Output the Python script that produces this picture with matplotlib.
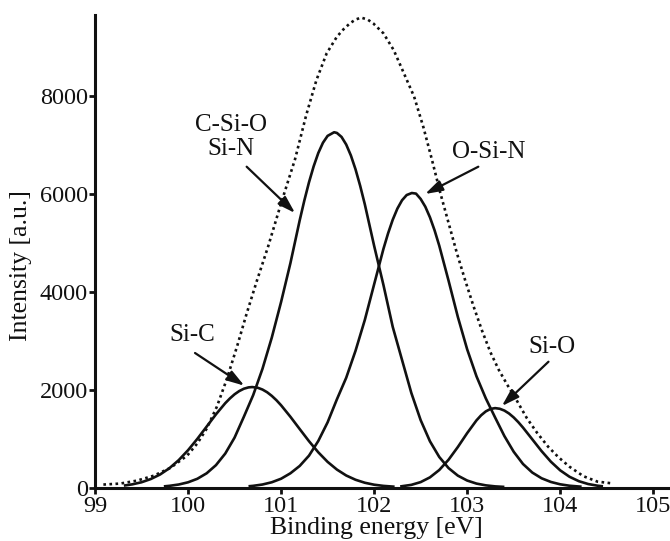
import matplotlib
matplotlib.use("Agg")
import matplotlib.pyplot as plt

plt.rcParams['font.family'] = ['Liberation Serif', 'DejaVu Serif']

# ---- data ----
sic_x = [99.31, 99.4, 99.5, 99.6, 99.7, 99.8, 99.9, 100.0, 100.1, 100.2, 100.3, 100.4, 100.45,
         100.5, 100.55, 100.6, 100.65, 100.69, 100.75, 100.8, 100.85, 100.9, 100.95, 101.0,
         101.1, 101.2, 101.3, 101.4, 101.5, 101.6, 101.7, 101.8, 101.9, 102.0, 102.1, 102.22]
sic_y = [39, 64, 107, 173, 266, 394, 559, 761, 993, 1243, 1493, 1721, 1818,
         1902, 1968, 2016, 2043, 2050, 2035, 1999, 1944, 1870, 1781, 1678,
         1444, 1193, 945, 718, 523, 366, 245, 158, 97, 57, 33, 16]

csio_x = [99.74, 99.8, 99.9, 100.0, 100.1, 100.2, 100.3, 100.4, 100.5, 100.6, 100.7, 100.8,
          100.9, 101.0, 101.1, 101.2, 101.25, 101.3, 101.35, 101.4, 101.45, 101.5, 101.57,
          101.6, 101.65, 101.7, 101.75, 101.8, 101.85, 101.9, 102.0, 102.1, 102.2, 102.3,
          102.4, 102.5, 102.6, 102.7, 102.8, 102.9, 103.0, 103.1, 103.2, 103.3, 103.4]
csio_y = [23, 34, 61, 106, 178, 290, 456, 693, 1018, 1444, 1885, 2422,
          3059, 3786, 4577, 5452, 5858, 6229, 6554, 6827, 7036, 7176, 7250,
          7236, 7154, 6999, 6777, 6494, 6157, 5779, 4933, 4134, 3278, 2603,
          1929, 1375, 943, 623, 396, 242, 142, 80, 44, 23, 12]

osin_x = [100.65, 100.7, 100.8, 100.9, 101.0, 101.1, 101.2, 101.3, 101.4, 101.5, 101.6, 101.7,
          101.8, 101.9, 102.0, 102.1, 102.15, 102.2, 102.25, 102.3, 102.35, 102.405, 102.45,
          102.5, 102.55, 102.6, 102.65, 102.7, 102.8, 102.9, 103.0, 103.1, 103.2, 103.3,
          103.4, 103.5, 103.6, 103.7, 103.8, 103.9, 104.0, 104.1, 104.23]
osin_y = [25, 34, 61, 107, 179, 290, 440, 650, 950, 1330, 1800, 2240,
          2790, 3420, 4146, 4869, 5187, 5465, 5692, 5862, 5969, 6010, 5998,
          5889, 5731, 5514, 5247, 4935, 4221, 3480, 2820, 2270, 1820, 1430,
          1050, 730, 480, 305, 188, 113, 65, 36, 16]

sio_x = [102.28, 102.4, 102.5, 102.6, 102.7, 102.8, 102.9, 103.0, 103.1, 103.15, 103.2, 103.25,
         103.3, 103.35, 103.4, 103.45, 103.5, 103.55, 103.6, 103.7, 103.8, 103.9, 104.0, 104.1,
         104.2, 104.3, 104.4, 104.46]
sio_y = [21, 54, 110, 207, 357, 567, 827, 1110, 1370, 1474, 1553, 1603,
         1620, 1607, 1570, 1510, 1430, 1333, 1223, 983, 742, 526, 350, 219,
         129, 71, 37, 24]

env_x = [99.09, 99.27, 99.45, 99.63, 99.81, 99.99, 100.1, 100.2, 100.31, 100.42, 100.53, 100.63,
         100.74, 100.86, 101.0, 101.15, 101.27, 101.38, 101.49, 101.6, 101.67, 101.74, 101.8,
         101.86, 101.93, 101.99, 102.1, 102.21, 102.32, 102.43, 102.53, 102.62, 102.71, 102.8,
         102.89, 102.98, 103.07, 103.16, 103.25, 103.34, 103.43, 103.53, 103.64, 103.75, 103.87,
         103.98, 104.1, 104.25, 104.4, 104.55]
env_y = [60, 80, 140, 240, 400, 650, 900, 1200, 1650, 2230, 2900, 3550,
         4220, 4914, 5800, 6700, 7600, 8316, 8861, 9200, 9350, 9473, 9550,
         9590, 9550, 9473, 9269, 8929, 8453, 7976, 7350, 6700, 6020, 5400,
         4780, 4220, 3690, 3200, 2760, 2400, 2100, 1786, 1420, 1120, 833,
         620, 424, 230, 120, 86]

x_ticks = [99, 100, 101, 102, 103, 104, 105]
y_ticks = [0, 2000, 4000, 6000, 8000]

# label text, label position, arrow tail, arrow tip (data coords)
labels = ["C-Si-O\nSi-N", "Si-C", "O-Si-N", "Si-O"]
label_pos = [(100.46, 7160), (100.05, 3110), (103.23, 6850), (103.91, 2870)]
arrow_from = [(100.63, 6547), (100.075, 2745), (103.12, 6547), (103.874, 2567)]
arrow_to = [(101.15, 5602), (100.605, 2078), (102.548, 5990), (103.373, 1663)]

# ---- figure ----
fig = plt.figure(figsize=(6.7, 5.41), dpi=100)
ax = fig.add_axes([95 / 670, 53.5 / 541, 575 / 670, 472.5 / 541])

for xs, ys in [(sic_x, sic_y), (csio_x, csio_y), (osin_x, osin_y), (sio_x, sio_y)]:
    ax.plot(xs, ys, color='#111111', lw=1.9, solid_capstyle='butt', solid_joinstyle='round')
ax.plot(env_x, env_y, color='#111111', lw=1.9, linestyle=(0, (1, 1.3)))

ax.set_xlim(99, 105.18)
ax.set_ylim(0, 9643)
ax.set_xticks(x_ticks)
ax.set_yticks(y_ticks)
ax.tick_params(axis='both', direction='out', length=4, width=2, labelsize=17.5,
               color='#111111', labelcolor='#111111')
ax.tick_params(axis='x', pad=2)
ax.tick_params(axis='y', pad=1)

for s in ['top', 'right']:
    ax.spines[s].set_visible(False)
for s in ['left', 'bottom']:
    ax.spines[s].set_linewidth(2.2)
    ax.spines[s].set_color('#111111')

ax.set_xlabel("Binding energy [eV]", fontsize=18.5, color='#111111')
ax.xaxis.set_label_coords(0.49, -0.062)
ax.set_ylabel("Intensity [a.u.]", fontsize=18.5, color='#111111')
ax.yaxis.set_label_coords(-0.11, 0.47)

for t, p, a0, a1 in zip(labels, label_pos, arrow_from, arrow_to):
    ax.text(p[0], p[1], t, ha='center', va='center', fontsize=18, color='#111111',
            linespacing=1.1)
    ax.annotate("", xy=a1, xytext=a0,
                arrowprops=dict(arrowstyle='-|>,head_length=0.7,head_width=0.22',
                                mutation_scale=15, color='#111111', lw=1.6,
                                shrinkA=0, shrinkB=0))

fig.savefig("out.png", dpi=100)
